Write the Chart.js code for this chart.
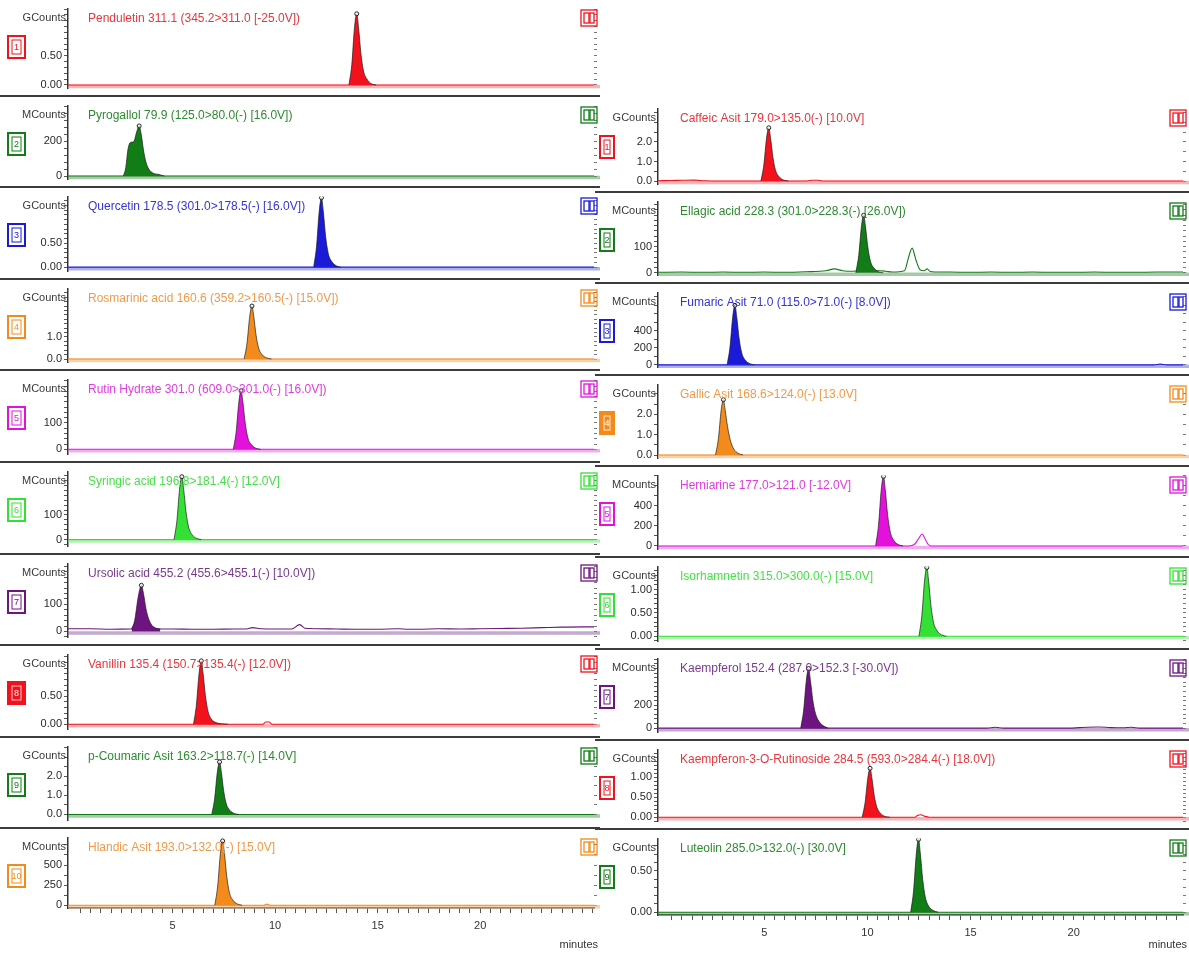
<!DOCTYPE html>
<html><head><meta charset="utf-8">
<script src="https://cdn.jsdelivr.net/npm/chart.js@4.4.1/dist/chart.umd.min.js"></script>
<style>
html,body{margin:0;padding:0;background:#fff;}
body{width:1189px;height:958px;position:relative;overflow:hidden;}
canvas{position:absolute;display:block;}
</style></head><body>
<script>
// ---------------- DATA ----------------
const titlesLeft = [
  "Penduletin 311.1 (345.2>311.0 [-25.0V])",
  "Pyrogallol 79.9 (125.0>80.0(-) [16.0V])",
  "Quercetin 178.5 (301.0>178.5(-) [16.0V])",
  "Rosmarinic acid 160.6 (359.2>160.5(-) [15.0V])",
  "Rutin Hydrate 301.0 (609.0>301.0(-) [16.0V])",
  "Syringic acid 196.8>181.4(-) [12.0V]",
  "Ursolic acid 455.2 (455.6>455.1(-) [10.0V])",
  "Vanillin 135.4 (150.7>135.4(-) [12.0V])",
  "p-Coumaric Asit 163.2>118.7(-) [14.0V]",
  "Hlandic Asit 193.0>132.0(-) [15.0V]"
];
const titlesRight = [
  "Caffeic Asit 179.0>135.0(-) [10.0V]",
  "Ellagic acid 228.3 (301.0>228.3(-) [26.0V])",
  "Fumaric Asit 71.0 (115.0>71.0(-) [8.0V])",
  "Gallic Asit 168.6>124.0(-) [13.0V]",
  "Herniarine 177.0>121.0 [-12.0V]",
  "Isorhamnetin 315.0>300.0(-) [15.0V]",
  "Kaempferol 152.4 (287.0>152.3 [-30.0V])",
  "Kaempferon-3-O-Rutinoside 284.5 (593.0>284.4(-) [18.0V])",
  "Luteolin 285.0>132.0(-) [30.0V]"
];
const unitsLeft  = ["GCounts","MCounts","GCounts","GCounts","MCounts","MCounts","MCounts","GCounts","GCounts","MCounts"];
const unitsRight = ["GCounts","MCounts","MCounts","GCounts","MCounts","GCounts","MCounts","GCounts","GCounts"];
const numbersLeft  = ["1","2","3","4","5","6","7","8","9","10"];
const numbersRight = ["1","2","3","4","5","6","7","8","9"];
const tickLabelsLeft = [
  ["0.00","0.50"],["0","200"],["0.00","0.50"],["0.0","1.0"],["0","100"],
  ["0","100"],["0","100"],["0.00","0.50"],["0.0","1.0","2.0"],["0","250","500"]
];
const tickLabelsRight = [
  ["0.0","1.0","2.0"],["0","100"],["0","200","400"],["0.0","1.0","2.0"],["0","200","400"],
  ["0.00","0.50","1.00"],["0","200"],["0.00","0.50","1.00"],["0.00","0.50"]
];
const xTickLabels = ["5","10","15","20"];

// peaks [minutes, counts]
const peakPenduletin = [[13.6,0],[13.74,0.35],[13.87,0.98],[13.98,1.22],[14.07,0.98],[14.18,0.55],[14.31,0.24],[14.48,0.1],[14.7,0.02],[14.93,0]];
const peakPyrogallol = [[2.6,0],[2.72,50],[2.82,150],[2.92,190],[3.02,195],[3.12,200],[3.24,250],[3.37,288],[3.47,240],[3.58,150],[3.7,80],[3.84,40],[4.0,20],[4.15,12],[4.3,10],[4.45,5],[4.6,0]];
const peakQuercetin = [[11.88,0],[12.02,0.44],[12.15,1.17],[12.26,1.46],[12.35,1.17],[12.46,0.66],[12.59,0.29],[12.76,0.12],[12.98,0.03],[13.21,0]];
const peakRosmarinic = [[8.49,0],[8.63,0.72],[8.76,1.92],[8.87,2.4],[8.96,1.92],[9.07,1.08],[9.2,0.48],[9.37,0.19],[9.59,0.05],[9.82,0]];
const peakRutin = [[7.96,0],[8.1,66],[8.23,178],[8.34,222],[8.43,178],[8.54,100],[8.67,44],[8.84,18],[9.06,4],[9.29,0]];
const peakSyringic = [[5.07,0],[5.21,76],[5.34,204],[5.45,255],[5.54,204],[5.65,115],[5.78,51],[5.95,20],[6.17,5],[6.4,0]];
const peakUrsolic = [[3.0,9],[3.15,40],[3.33,130],[3.48,170],[3.58,140],[3.7,85],[3.84,45],[4.0,22],[4.2,12],[4.4,9]];
const peakVanillin = [[6.02,0],[6.16,0.34],[6.29,0.9],[6.4,1.13],[6.49,0.9],[6.6,0.51],[6.73,0.23],[6.9,0.09],[7.12,0.03],[7.4,0.01],[7.7,0]];
const peakCoumaric = [[6.91,0],[7.05,0.82],[7.18,2.2],[7.29,2.75],[7.38,2.2],[7.49,1.24],[7.62,0.55],[7.79,0.22],[8.01,0.05],[8.24,0]];
const peakHlandic = [[7.06,0],[7.2,240],[7.33,640],[7.44,800],[7.53,640],[7.64,360],[7.77,160],[7.94,64],[8.16,16],[8.39,0]];

const peakCaffeic = [[4.84,0],[4.98,0.82],[5.11,2.18],[5.22,2.72],[5.31,2.18],[5.42,1.22],[5.55,0.54],[5.72,0.22],[5.94,0.05],[6.17,0]];
const peakEllagic = [[9.44,0],[9.58,66],[9.71,175],[9.82,219],[9.91,175],[10.02,99],[10.15,44],[10.32,18],[10.54,4],[10.77,0]];
const peakFumaric = [[3.2,0],[3.34,210],[3.47,560],[3.58,700],[3.67,560],[3.78,315],[3.91,140],[4.08,56],[4.3,14],[4.53,0]];
const peakGallic = [[2.64,0],[2.78,0.82],[2.91,2.18],[3.02,2.72],[3.11,2.18],[3.22,1.4],[3.35,0.75],[3.52,0.3],[3.74,0.08],[3.97,0]];
const peakHerniarine = [[10.4,0],[10.54,208],[10.67,556],[10.78,695],[10.87,556],[10.98,313],[11.11,139],[11.28,56],[11.5,14],[11.73,0]];
const peakIsorhamnetin = [[12.5,0],[12.64,0.44],[12.77,1.18],[12.88,1.47],[12.97,1.18],[13.08,0.66],[13.21,0.29],[13.38,0.12],[13.6,0.03],[13.83,0]];
const peakKaempferol = [[6.77,0],[6.91,156],[7.04,416],[7.15,520],[7.24,416],[7.35,250],[7.48,130],[7.65,60],[7.87,20],[8.1,0]];
const peakKaempferon = [[9.75,0],[9.89,0.37],[10.02,0.98],[10.13,1.23],[10.22,0.98],[10.33,0.55],[10.46,0.25],[10.63,0.1],[10.85,0.02],[11.08,0]];
const peakLuteolin = [[12.1,0],[12.24,0.26],[12.37,0.7],[12.48,0.88],[12.57,0.7],[12.68,0.4],[12.81,0.18],[12.98,0.07],[13.2,0.02],[13.43,0]];

// full traces (baseline + minor signals)
const traceFlatL = [[-0.1,0],[25.55,0]];
const traceUrsolic = [[-0.1,10],[1,10],[2,8],[3,9],[4.4,9],[5,9],[6,8],[7,8],[8,9],[8.6,9],[8.9,14],[9.3,10],[10,9],[10.8,9],[11.2,25],[11.45,12],[12,10],[13,9],[14,8],[15,8],[16,10],[16.5,8],[17,8],[18,10],[19,9],[20,10],[21,11],[22,12],[23,14],[24,16],[25,17],[25.55,17]];
const traceVanillin = [[-0.1,0],[9.4,0],[9.55,0.04],[9.7,0.04],[9.85,0],[25.55,0]];
const traceHlandic = [[-0.1,0],[9.45,0],[9.6,14],[9.75,0],[25.55,0]];
const traceFlatR = [[-0.15,0],[25.3,0]];
const traceCaffeic = [[-0.15,0.02],[0.5,0.03],[1.0,0.04],[1.6,0.05],[2.1,0.02],[2.5,0],[7.0,0],[7.3,0.04],[7.6,0.04],[7.9,0],[25.3,0]];
const traceEllagic = [[-0.15,2],[1,3],[2,2],[3,3],[4,2],[5,3],[6,2],[7,4],[8,8],[8.4,15],[8.8,8],[9.3,6],[9.55,8],[10.6,8],[10.9,6],[11.2,3],[11.8,8],[12.0,60],[12.17,94],[12.35,50],[12.55,12],[12.75,8],[12.9,15],[13.05,5],[13.5,3],[14,3],[15,2],[16,3],[17,2],[18,3],[19,2],[20,2],[21,3],[22,2],[23,2],[24,3],[25.3,3]];
const traceFumaric = [[-0.15,0],[23.9,0],[24.2,8],[24.5,0],[25.3,0]];
const traceHerniarine = [[-0.15,0],[12.0,0],[12.3,20],[12.5,80],[12.65,120],[12.8,70],[12.95,15],[13.1,0],[25.3,0]];
const traceKaempferol = [[-0.15,0],[15.8,0],[16.2,8],[16.6,0],[19.8,0],[20.3,5],[21.2,10],[21.8,5],[22.4,3],[22.8,8],[23.2,0],[25.3,0]];
const traceKaempferon = [[-0.15,0],[12.3,0],[12.45,0.05],[12.6,0.06],[12.8,0.02],[13,0],[25.3,0]];

// ---------------- LAYOUT / STYLE ----------------
const FONT = "'Liberation Sans Narrow','Arial Narrow','Liberation Sans',Arial,sans-serif";
const COL = {
  red:    {fill:'#f2121c', text:'#e8363c', band:'rgba(242,120,125,0.55)'},
  dgreen: {fill:'#127c16', text:'#2e8a30', band:'rgba(80,150,80,0.5)'},
  blue:   {fill:'#1a1ad8', text:'#3434d6', band:'rgba(110,110,220,0.55)'},
  orange: {fill:'#f28a1c', text:'#f09a48', band:'rgba(242,180,120,0.6)'},
  magenta:{fill:'#e212dc', text:'#e03ce0', band:'rgba(225,110,225,0.55)'},
  lgreen: {fill:'#34e034', text:'#48e048', band:'rgba(120,230,120,0.55)'},
  purple: {fill:'#6e1480', text:'#7a3a8c', band:'rgba(150,100,170,0.55)'}
};
const left = {
  x:0, w:600, axisW:68, titleX:88, xmin:-0.1, xmax:25.55, boxW:17, boxX:8,
  tops:[0,97,188,280,371,463,555,646,738,829], end:958, xAxisH:50,
  colors:['red','dgreen','blue','orange','magenta','lgreen','purple','red','dgreen','orange'],
  filled:[false,false,false,false,false,false,false,true,false,false],
  ranges:[[-0.059,1.309],[-19.5,405],[-0.089,1.482],[-0.154,3.19],[-19.4,264.5],[-27.6,275.9],[-21.9,250],[-0.091,1.242],[-0.311,3.556],[-34,841]],
  minor:[0.1,40,0.1,0.2,20,20,20,0.1,0.5,125],
  peaks:[peakPenduletin,peakPyrogallol,peakQuercetin,peakRosmarinic,peakRutin,peakSyringic,peakUrsolic,peakVanillin,peakCoumaric,peakHlandic],
  traces:[traceFlatL,traceFlatL,traceFlatL,traceFlatL,traceFlatL,traceFlatL,traceUrsolic,traceVanillin,traceFlatL,traceHlandic],
  titles:titlesLeft, units:unitsLeft, numbers:numbersLeft, ticks:tickLabelsLeft
};
const right = {
  x:595, w:594, axisW:63, titleX:85, xmin:-0.15, xmax:25.3, boxW:14, boxX:5,
  tops:[100,193,284,376,467,558,650,741,830], end:958, xAxisH:43,
  colors:['red','dgreen','blue','orange','magenta','lgreen','purple','red','dgreen'],
  filled:[false,false,false,true,false,false,false,false,false],
  ranges:[[-0.17,3.7],[-9.7,271],[-30,850],[-0.167,3.46],[-34,703],[-0.109,1.49],[-37,607],[-0.106,1.70],[-0.033,0.889]],
  minor:[0.5,20,100,0.5,100,0.1,40,0.1,0.1],
  peaks:[peakCaffeic,peakEllagic,peakFumaric,peakGallic,peakHerniarine,peakIsorhamnetin,peakKaempferol,peakKaempferon,peakLuteolin],
  traces:[traceCaffeic,traceEllagic,traceFumaric,traceFlatR,traceHerniarine,traceFlatR,traceKaempferol,traceKaempferon,traceFlatR],
  titles:titlesRight, units:unitsRight, numbers:numbersRight, ticks:tickLabelsRight
};

Chart.defaults.font.family = FONT;
Chart.defaults.font.size = 11;
Chart.defaults.color = '#2a2a2a';

const decor = {
  id:'decor',
  beforeDatasetsDraw(chart, args, o){
    const {ctx, chartArea:a, scales:{y}} = chart;
    const y0 = y.getPixelForValue(0);
    ctx.save();
    ctx.strokeStyle = o.band; ctx.lineWidth = 3.5;
    ctx.beginPath(); ctx.moveTo(a.left, y0+1.5); ctx.lineTo(chart.width, y0+1.5); ctx.stroke();
    ctx.restore();
  },
  afterDraw(chart, args, o){
    const {ctx, width, height, chartArea:a} = chart;
    ctx.save();
    ctx.textBaseline = 'middle';
    ctx.font = `12px ${FONT}`; ctx.fillStyle = o.text; ctx.textAlign = 'left';
    ctx.fillText(o.title, o.titleX, 19);
    ctx.font = `11px ${FONT}`; ctx.fillStyle = '#3a3a3a'; ctx.textAlign = 'right';
    ctx.fillText(o.unit, a.left - 2, 18);
    // number box
    const bx = o.boxX, by = 36, bw = o.boxW, bh = 22;
    ctx.lineWidth = 2;
    if (o.filled){ ctx.fillStyle = o.fill; ctx.fillRect(bx, by, bw, bh); }
    ctx.strokeStyle = o.fill; ctx.strokeRect(bx, by, bw, bh);
    ctx.strokeStyle = o.filled ? 'rgba(255,255,255,0.8)' : o.fill; ctx.lineWidth = 1;
    ctx.strokeRect(bx+4, by+4, bw-8, bh-8);
    ctx.fillStyle = o.filled ? '#fff' : o.fill; ctx.textAlign = 'center';
    ctx.font = `9px ${FONT}`;
    ctx.fillText(o.number, bx + bw/2, by + bh/2 + 0.5);
    // right icon
    const ix = width - 19, iy = 10;
    ctx.strokeStyle = o.fill; ctx.lineWidth = 1.3;
    ctx.strokeRect(ix, iy, 16, 16);
    ctx.strokeRect(ix+3, iy+3, 5, 10); ctx.strokeRect(ix+9, iy+3, 4, 10);
    // separator / minutes
    if (!o.last){
      ctx.strokeStyle = '#3c3c3c'; ctx.lineWidth = 2;
      ctx.beginPath(); ctx.moveTo(0, height-1); ctx.lineTo(width, height-1); ctx.stroke();
    } else {
      ctx.font = `11px ${FONT}`; ctx.fillStyle = '#333'; ctx.textAlign = 'right';
      ctx.fillText('minutes', width - 2, height - 13);
    }
    ctx.restore();
  }
};

function build(col){
  const n = col.tops.length;
  for (let i=0;i<n;i++){
    const top = col.tops[i];
    const bottom = i < n-1 ? col.tops[i+1] : col.end;
    const last = i === n-1;
    const h = bottom - top;
    const cv = document.createElement('canvas');
    cv.width = col.w; cv.height = h;
    cv.style.left = col.x + 'px'; cv.style.top = top + 'px';
    cv.style.width = col.w + 'px'; cv.style.height = h + 'px';
    document.body.appendChild(cv);
    const c = COL[col.colors[i]];
    const [ymin, ymax] = col.ranges[i];
    const labels = col.ticks[i];
    const majorVals = labels.map(parseFloat);
    const minor = col.minor[i];
    const peak = col.peaks[i];
    const apex = Math.max(...peak.map(p=>p[1]));
    const yTicks = (s) => {
      const arr = [];
      for (let k = Math.ceil(ymin/minor); k*minor <= ymax; k++) arr.push({value: +(k*minor).toFixed(6)});
      s.ticks = arr;
    };
    const yLabel = (v) => {
      const idx = majorVals.findIndex(m => Math.abs(m - v) < minor*0.01 + 1e-9);
      return idx >= 0 ? labels[idx] : '';
    };
    new Chart(cv.getContext('2d'), {
      type:'line',
      data:{datasets:[
        {data: col.traces[i].map(p=>({x:p[0], y:p[1]})), borderColor:c.fill, borderWidth:1.1,
         pointRadius:0, fill:false, cubicInterpolationMode:'monotone', order:2},
        {data: peak.map(p=>({x:p[0], y:p[1]})), borderColor:'rgba(25,25,25,0.85)', borderWidth:0.8,
         backgroundColor:c.fill, fill:'origin', cubicInterpolationMode:'monotone', order:1,
         pointRadius: ctx => (ctx.raw && ctx.raw.y === apex) ? 2 : 0,
         pointBackgroundColor:'rgba(255,255,255,0.7)', pointBorderColor:'#222', pointBorderWidth:1}
      ]},
      options:{
        animation:false, responsive:false, maintainAspectRatio:false, devicePixelRatio:1,
        events:[],
        layout:{padding:{top:2, bottom:last?0:2, left:0, right:0}},
        plugins:{legend:{display:false}, tooltip:{enabled:false},
          decor:{title:col.titles[i], unit:col.units[i], number:col.numbers[i], fill:c.fill, text:c.text,
                 band:c.band, filled:col.filled[i], last, titleX:col.titleX, boxX:col.boxX, boxW:col.boxW}},
        scales:{
          x:{type:'linear', min:col.xmin, max:col.xmax, display:last,
             afterFit: s => { s.height = last ? col.xAxisH : 0; },
             afterBuildTicks: s => { const a=[]; for(let k=1;k*0.5<=col.xmax;k++) a.push({value:k*0.5}); s.ticks=a; },
             ticks:{autoSkip:false, maxRotation:0, padding:6, color:'#333',
                    callback: v => { const s = String(v); return xTickLabels.includes(s) ? s : ''; }},
             grid:{drawOnChartArea:false, tickLength:5, color:'#555', tickWidth:1},
             border:{color:'#333', width:1.5}},
          y:{type:'linear', position:'left', min:ymin, max:ymax,
             afterFit: s => { s.width = col.axisW; },
             afterBuildTicks: yTicks,
             ticks:{autoSkip:false, padding:2, color:'#2a2a2a', callback: v => yLabel(v)},
             grid:{drawOnChartArea:false, tickLength:4, color:'#555', tickWidth:1},
             border:{color:'#333', width:1.5}},
          yr:{type:'linear', position:'right', min:ymin, max:ymax,
             afterFit: s => { s.width = 6; },
             afterBuildTicks: yTicks,
             ticks:{autoSkip:false, display:false},
             grid:{drawOnChartArea:false, tickLength:3, color:'#777', tickWidth:1},
             border:{display:false}}
        }
      },
      plugins:[decor]
    });
  }
}
build(left);
build(right);
</script>
</body></html>
